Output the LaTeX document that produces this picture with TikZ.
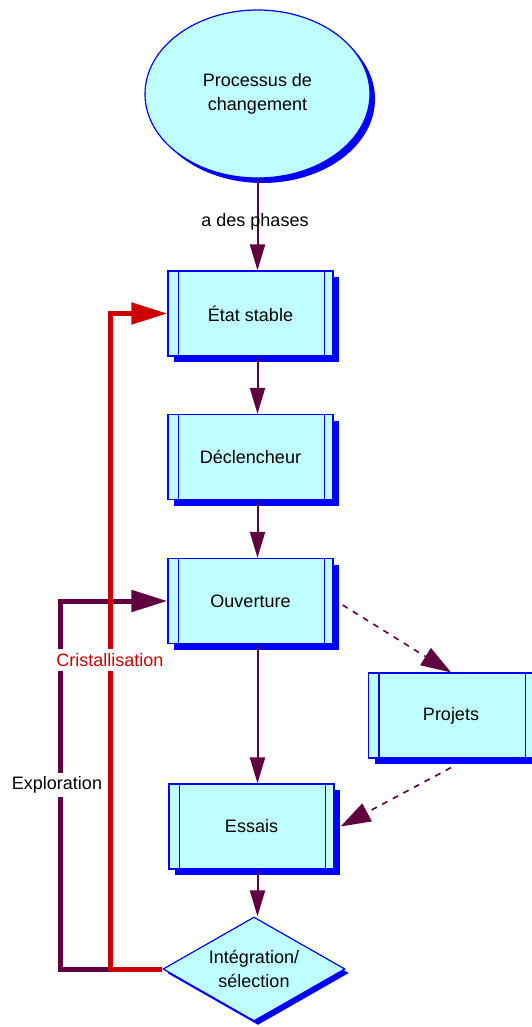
\documentclass[tikz,border=0pt]{standalone}
\usepackage{fontspec}
\setmainfont{Liberation Sans}
\usetikzlibrary{shapes.geometric,shadows,arrows.meta,calc}
\definecolor{boxfill}{HTML}{C0FFFF}
\definecolor{boxline}{HTML}{0000FF}
\definecolor{flow}{HTML}{600040}
\definecolor{loopred}{HTML}{CC0000}
\tikzset{
  txt/.style={font=\fontsize{18}{24}\selectfont, align=center},
  shade blue/.style={drop shadow={shadow xshift=#1, shadow yshift=-#1, fill=boxline, opacity=1}},
  procbox/.style={txt, draw=boxline, line width=1.2pt, fill=boxfill,
    minimum width=165pt, minimum height=85pt, inner sep=0pt, shade blue=6pt},
  procedge/.style={boxline, line width=1.2pt},
  startnode/.style={txt, ellipse, draw=boxline, line width=1.2pt, fill=boxfill,
    minimum width=225pt, minimum height=168pt, inner sep=0pt, shade blue=5pt},
  decision/.style={txt, diamond, draw=boxline, line width=1.2pt, fill=boxfill,
    minimum width=182pt, minimum height=104pt, shape aspect=1.75, inner sep=-3pt, shade blue=4pt},
  flowarrow/.style={draw=flow, line width=2pt, -{Triangle[length=26pt, width=15pt]}},
  dasharrow/.style={draw=flow, line width=1.6pt, dash pattern=on 6pt off 6pt,
    -{Triangle[length=30pt, width=20pt]}},
  looparrow/.style={draw=#1, line width=5pt, line join=miter,
    -{Triangle[length=36pt, width=21pt]}},
  looplabel/.style={txt, fill=white, inner xsep=1pt, inner ysep=4pt},
}
\begin{document}
\begin{tikzpicture}[x=1pt, y=-1pt]
\useasboundingbox (0,0) rectangle (532,1027);
\clip (0,0) rectangle (532,1027);

% process chain
\node[startnode] (proc) at (257.5,94) {Processus de\\changement};
\node[procbox] (stable) at (250.5,313.5) {État stable};
\node[procbox] (trigger) at (250.5,457) {Déclencheur};
\node[procbox] (open) at (250.5,601) {Ouverture};
\node[procbox] (proj) at (451,715.5) {Projets};
\node[procbox] (trials) at (251.5,826.5) {Essais};
\node[decision] (integ) at (254,969) {Intégration/\\sélection};

% side bars of the predefined-process boxes
\foreach \b in {stable,trigger,open,proj,trials}{
  \draw[procedge] ([xshift=11pt]\b.north west) -- ([xshift=11pt]\b.south west)
                  ([xshift=-9pt]\b.north east) -- ([xshift=-9pt]\b.south east);
}

% vertical flow
\draw[flowarrow] (proc.south) -- (stable.north -| proc.south);
\draw[flowarrow] (stable.south -| proc.south) -- (trigger.north -| proc.south);
\draw[flowarrow] (trigger.south -| proc.south) -- (open.north -| proc.south);
\draw[flowarrow] (open.south -| proc.south) -- (trials.north -| proc.south);
\draw[flowarrow] (trials.south -| proc.south) -- (integ.north -| proc.south);
\node[txt] (phases) at (255,222) {a des phases};

% side branch through the projects
\draw[dasharrow] ([xshift=9pt,yshift=-4pt]open.east) -- (proj.north);
\draw[dasharrow] ([yshift=-9pt]proj.south) -- ([xshift=6pt]trials.east);

% feedback loops
\coordinate (xexpl) at (60,0);
\coordinate (xcrist) at (110,0);
\draw[looparrow=flow] (integ.west) -| (xexpl |- open.west) -- (open.west);
\draw[looparrow=loopred] (integ.west) -| (xcrist |- stable.west) -- (stable.west);
\node[looplabel, text=loopred] (crist) at (110,660) {Cristallisation};
\node[looplabel] (expl) at (57,785) {Exploration};
\end{tikzpicture}
\end{document}
